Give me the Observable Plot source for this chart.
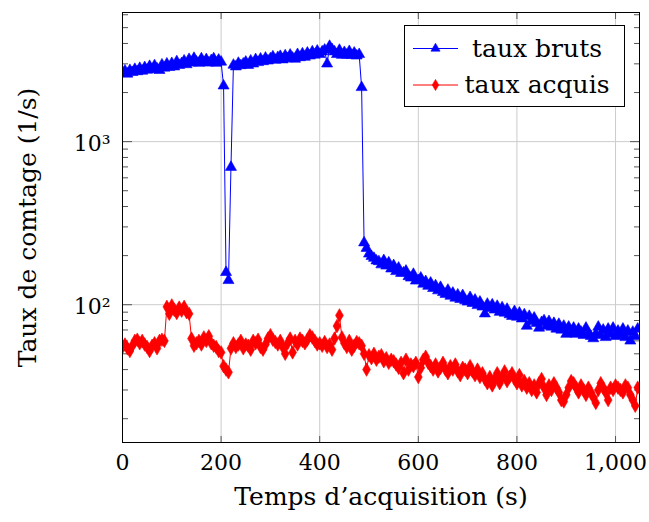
<!DOCTYPE html>
<html>
<head>
<meta charset="utf-8">
<script src="https://cdn.jsdelivr.net/npm/d3@7"></script>
<script src="https://cdn.jsdelivr.net/npm/@observablehq/plot@0.6"></script>
<style>
  html, body { margin: 0; padding: 0; background: white; }
  #wrap { position: relative; width: 649px; height: 522px; }
  #legend { position: absolute; left: 404px; top: 25px; }
</style>
</head>
<body>
<div id="wrap"></div>
<script>
// acquisition times (s)
const t = [0,5,10,15,20,25,30,35,40,45,50,55,60,65,70,75,80,85,90,95,
100,105,110,115,120,125,130,135,140,145,150,155,160,165,170,175,180,185,190,195,
200,205,210,215,220,225,230,235,240,245,250,255,260,265,270,275,280,285,290,295,
300,305,310,315,320,325,330,335,340,345,350,355,360,365,370,375,380,385,390,395,
400,405,410,415,420,425,430,435,440,445,450,455,460,465,470,475,480,485,490,495,
500,505,510,515,520,525,530,535,540,545,550,555,560,565,570,575,580,585,590,595,
600,605,610,615,620,625,630,635,640,645,650,655,660,665,670,675,680,685,690,695,
700,705,710,715,720,725,730,735,740,745,750,755,760,765,770,775,780,785,790,795,
800,805,810,815,820,825,830,835,840,845,850,855,860,865,870,875,880,885,890,895,
900,905,910,915,920,925,930,935,940,945,950,955,960,965,970,975,980,985,990,995,
1000,1005,1010,1015,1020,1025,1030,1035,1040,1045];

// taux bruts (1/s)
const tauxBruts = [2650,2720,2600,2740,2660,2780,2690,2820,2710,2850,2750,2900,2770,2930,2800,2740,2960,2830,3000,2860,
3020,2880,3100,2940,3020,3130,2970,3200,3040,3250,3080,3030,3230,3060,3190,3040,3150,3230,3030,3170,
3080,2200,158,141,697,2950,2880,3030,2930,3000,3080,2940,3130,3000,3190,3060,3220,3100,3260,3130,
3230,3320,3160,3290,3340,3180,3370,3230,3400,3260,3210,3430,3280,3460,3300,3500,3360,3560,3400,3600,
3430,3560,3650,3000,3850,3680,3560,3430,3640,3390,3530,3400,3580,3380,3500,3360,3430,2150,240,222,
205,198,193,186,184,176,187,173,181,166,174,160,168,156,157,161,149,146,154,140,
141,146,134,139,130,136,126,131,122,128,119,116,123,113,118,110,115,108,114,106,
104,111,102,107,99,104,97,88,101,95,100,93,98,90,96,89,94,87,85,91,
84,89,82,87,74,85,79,83,77,72,78,80,74,79,73,77,71,76,70,74,
66,73,67,72,66,71,68,65,72,67,64,62,66,73,65,70,63,71,66,72,
64,69,65,71,63,69,60,68,64,71];

// taux acquis (1/s)
const tauxAcquis = [55,57,54,52,56,60,61,58,60,57,55,52,56,58,54,60,61,60,97,88,
99,93,89,96,92,97,90,88,62,56,58,60,57,63,60,64,58,56,55,52,
51,42,40,38.5,54,58,55,57,60,54,57,56,53,60,58,61,55,53,57,62,
65,61,59,57,60,55,50,58,62,51,60,57,62,60,58,61,65,63,60,57,
58,56,59,55,57,53,62,74,86,63,58,55,60,53,56,59,58,56,50,40,
49,47,50,46,48,49,45,47,44,46,45,43,41,44,38,46,40,43,42,44,
36,41,46,48,44,42,40,43,39,41,44,40,38,42,40,43,39,37,41,40,
38,42,39,37,40,36,38,35,33,36,32,35,38,33,36,39,34,36,38,35,
33,37,32,34,31,33,30,32,29,33,35,31,28,32,30,33,31,29,26,25.5,
28,31,34,33,31,29,32,30,28,31,29,27,25,30,33,31,29,26,31,30,
32,31,30,29,32,31,28,26,24,31];

const xTicks = [0, 200, 400, 600, 800, 1000];
const yMajor = [100, 1000];
const yMajorLabels = {100: "10²", 1000: "10³"};
const yMinor = [20,30,40,50,60,70,80,90,200,300,400,500,600,700,800,900,2000,3000,4000,5000,6000];
const seriesNames = ["taux bruts", "taux acquis"];
const seriesColors = ["#0000ff", "#ff0000"];
const xLabel = "Temps d’acquisition (s)";
const yLabel = "Taux de comtage (1/s)";

const idx = d3.range(t.length);
const tickColor = "#555";
const gridColor = "#cccccc";

const chart = Plot.plot({
  width: 649,
  height: 522,
  marginLeft: 122,
  marginRight: 10,
  marginTop: 12,
  marginBottom: 80,
  style: {fontFamily: "'DejaVu Serif', serif", fontSize: "22px", background: "white", color: "black"},
  x: {domain: [0, 1048.6]},
  y: {type: "log", domain: [14.29, 6193]},
  marks: [
    Plot.gridX(xTicks.slice(1), {stroke: gridColor, strokeOpacity: 1, strokeWidth: 1}),
    Plot.gridY(yMajor, {stroke: gridColor, strokeOpacity: 1, strokeWidth: 1}),
    // inward ticks
    Plot.axisY(yMinor, {anchor: "left", tickSize: -6, tickFormat: () => "", stroke: tickColor, label: null}),
    Plot.axisY(yMinor, {anchor: "right", tickSize: -6, tickFormat: () => "", stroke: tickColor, label: null}),
    Plot.axisY(yMajor, {anchor: "left", tickSize: -10, tickFormat: () => "", stroke: tickColor, label: null}),
    Plot.axisY(yMajor, {anchor: "right", tickSize: -10, tickFormat: () => "", stroke: tickColor, label: null}),
    Plot.axisX(xTicks, {anchor: "bottom", tickSize: -6, tickFormat: () => "", stroke: tickColor, label: null}),
    Plot.axisX(xTicks, {anchor: "top", tickSize: -6, tickFormat: () => "", stroke: tickColor, label: null}),
    // tick labels
    Plot.text(yMajor, {y: d => d, text: d => yMajorLabels[d], frameAnchor: "left", textAnchor: "end", dx: -12, dy: 2, fontSize: 22}),
    Plot.axisX(xTicks, {anchor: "bottom", tickSize: 0, tickPadding: 12, tickFormat: d3.format(","), label: null, fontSize: 22}),
    // series
    Plot.line(idx, {x: i => t[i], y: i => tauxBruts[i], stroke: seriesColors[0], strokeWidth: 1, clip: true}),
    Plot.dot(idx, {x: i => t[i], y: i => tauxBruts[i], symbol: "triangle", r: 4.1, fill: seriesColors[0], stroke: seriesColors[0], strokeWidth: 0.6, clip: true}),
    Plot.line(idx, {x: i => t[i], y: i => tauxAcquis[i], stroke: seriesColors[1], strokeWidth: 1, clip: true}),
    Plot.dot(idx, {x: i => t[i], y: i => tauxAcquis[i], symbol: "diamond", r: 4.1, fill: seriesColors[1], stroke: seriesColors[1], strokeWidth: 0.6, clip: true}),
    Plot.frame({stroke: "black", strokeWidth: 1}),
    // axis titles
    Plot.text([xLabel], {frameAnchor: "bottom", textAnchor: "middle", dy: 62, fontSize: 25}),
    Plot.text([yLabel], {frameAnchor: "left", textAnchor: "middle", rotate: -90, dx: -95, fontSize: 25})
  ]
});

const wrap = document.getElementById("wrap");
wrap.appendChild(chart);

// legend
const lw = 221, lh = 82;
const leg = d3.create("svg")
  .attr("id", "legend")
  .attr("width", lw).attr("height", lh)
  .style("font-family", "'DejaVu Serif', serif")
  .style("font-size", "25px");
leg.append("rect").attr("x", 0.5).attr("y", 0.5).attr("width", lw - 1).attr("height", lh - 1)
  .attr("fill", "white").attr("stroke", "black").attr("stroke-width", 1);
const symbols = [d3.symbolTriangle, d3.symbolDiamond];
const rowY = [23.5, 60];
seriesNames.forEach((name, k) => {
  const g = leg.append("g").attr("transform", `translate(0,${rowY[k]})`);
  g.append("line").attr("x1", 9).attr("x2", 54).attr("y1", 0).attr("y2", 0)
    .attr("stroke", seriesColors[k]).attr("stroke-width", 1);
  g.append("path").attr("transform", "translate(31.5,0)")
    .attr("d", d3.symbol(symbols[k], Math.PI * 3.4 * 3.4)())
    .attr("fill", seriesColors[k]).attr("stroke", seriesColors[k]).attr("stroke-width", 0.6);
  g.append("text").attr("x", 133).attr("y", 0).attr("dy", "0.32em")
    .attr("text-anchor", "middle").attr("fill", "black").text(name);
});
wrap.appendChild(leg.node());
</script>
</body>
</html>
